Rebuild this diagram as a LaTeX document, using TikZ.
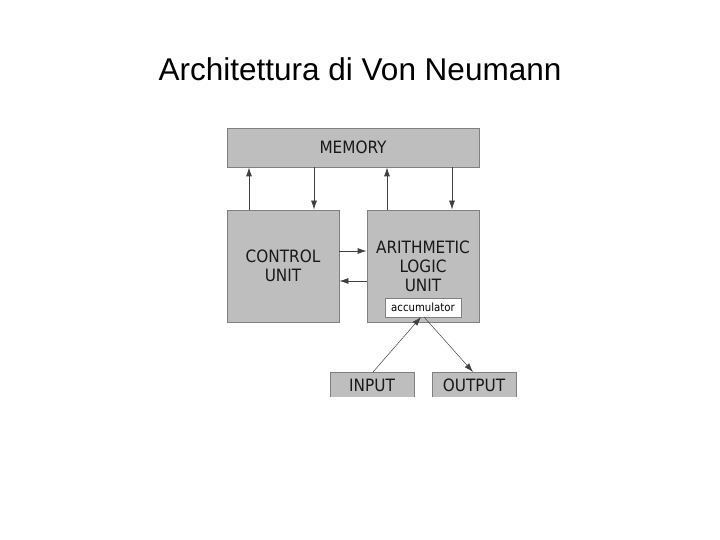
\documentclass[tikz,border=0pt]{standalone}
\usepackage{fontspec}
\setmainfont{Liberation Sans}
\newfontfamily\dejavu{DejaVu Sans Condensed}
\usetikzlibrary{arrows.meta}
\definecolor{boxgray}{HTML}{BEBEBE}
\definecolor{edgegray}{HTML}{808080}
\begin{document}
\begin{tikzpicture}[x=1pt,y=-1pt,
  unitbox/.style={draw=edgegray,fill=boxgray,line width=0.8pt,inner sep=0pt},
  lbl/.style={font=\dejavu\fontsize{17}{18.5}\selectfont,align=center,text=black!90},
  conn/.style={draw=black!75,line width=0.8pt,-{Latex[length=9pt,width=6pt]}}]
\useasboundingbox (0,0) rectangle (720,540);
\node[font=\fontsize{31.5}{36}\selectfont] (title) at (360,69) {Architettura di Von Neumann};
% boxes
\node[unitbox,minimum width=252pt,minimum height=39pt] (mem) at (353,147.5) {};
\node[lbl] at (mem) {MEMORY};
\node[unitbox,minimum width=112pt,minimum height=112pt] (cu) at (283,266) {};
\node[lbl] at (283,266) {CONTROL\\UNIT};
\node[unitbox,minimum width=112pt,minimum height=112pt] (alu) at (423,266) {};
\node[lbl,font=\dejavu\fontsize{17}{19}\selectfont] at (423,266.5) {ARITHMETIC\\LOGIC\\UNIT};
\node[draw=edgegray,fill=white,line width=0.6pt,minimum width=76pt,minimum height=19pt,inner sep=0pt,font=\dejavu\fontsize{11.3}{13}\selectfont] (acc) at (423,307.5) {accumulator};
% input / output (cut at bottom)
\fill[boxgray] (330,372) rectangle (414,397);
\draw[edgegray,line width=0.8pt] (330,397) -- (330,372) -- (414,372) -- (414,397);
\node[lbl] (in) at (372,385) {INPUT};
\coordinate (inT) at (373,372);
\fill[boxgray] (432,372) rectangle (516,397);
\draw[edgegray,line width=0.8pt] (432,397) -- (432,372) -- (516,372) -- (516,397);
\node[lbl] (out) at (474,385) {OUTPUT};
\coordinate (outT) at (473,372);
% connectors
\draw[conn] (cu.north -| 249,0) -- (mem.south -| 249,0);
\draw[conn] (mem.south -| 314,0) -- (cu.north -| 314,0);
\draw[conn] (alu.north -| 387,0) -- (mem.south -| 387,0);
\draw[conn] (mem.south -| 452,0) -- (alu.north -| 452,0);
\draw[conn] (cu.east |- 0,251) -- (alu.west |- 0,251);
\draw[conn] (alu.west |- 0,281) -- (cu.east |- 0,281);
\draw[conn,line width=0.5pt] (inT) -- (421,317);
\draw[conn,line width=0.5pt] (424,317) -- (outT);
\end{tikzpicture}
\end{document}
